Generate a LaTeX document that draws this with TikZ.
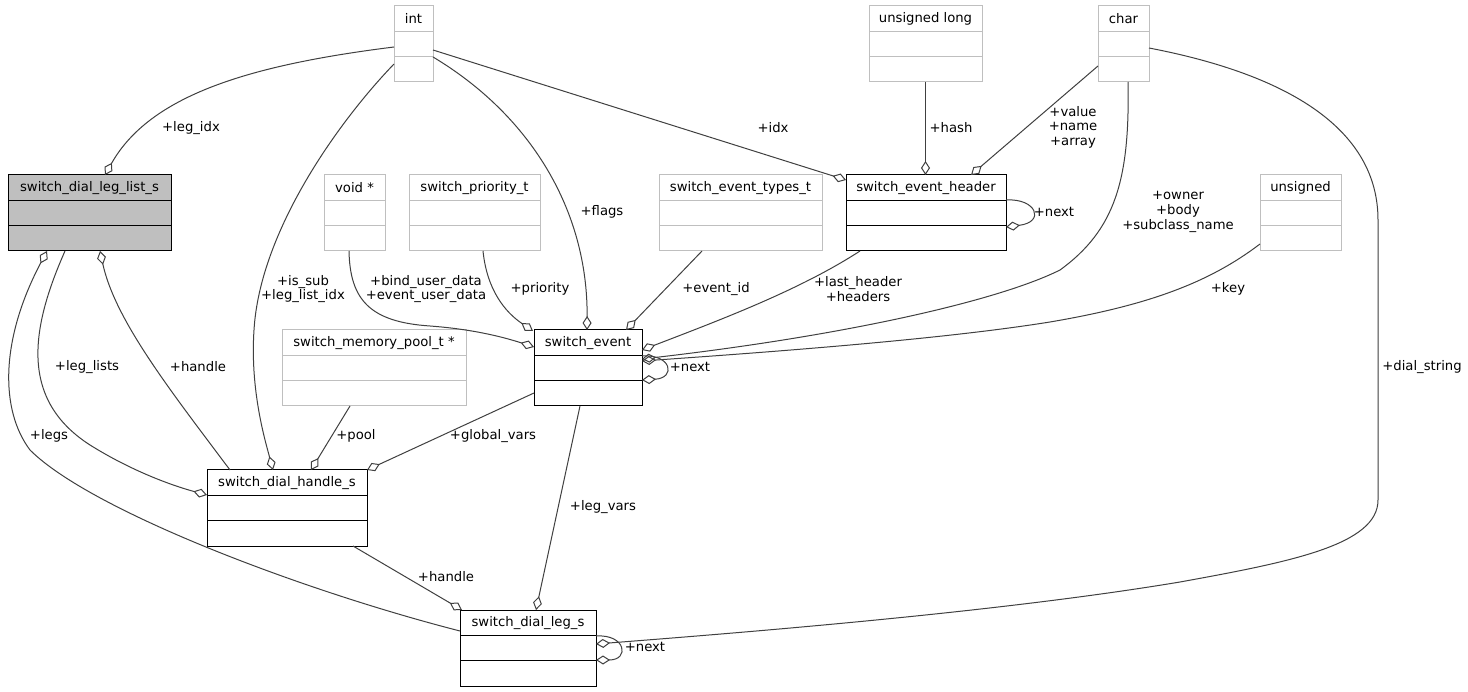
\documentclass[tikz,border=0pt]{standalone}
\usepackage{fontspec}
\newfontfamily\djv{DejaVu Sans}
\usetikzlibrary{arrows.meta}
\definecolor{edgecol}{HTML}{404040}
\definecolor{boxgray}{HTML}{BFBFBF}
\newcommand\lblfont{\djv\fontsize{13.2}{14.6}\selectfont}
\tikzset{
  clsbox/.style={draw=black, line width=1pt, minimum height=76pt, inner sep=0pt, outer sep=0pt, anchor=north west},
  rowline/.style={draw=black, line width=1pt},
  ttl/.style={font=\lblfont, inner sep=0pt, text=black},
  elabel/.style={font=\lblfont, inner sep=0pt, align=center, text=black},
  agg/.style={draw=edgecol, line width=1pt, -{Diamond[open, length=14pt, width=9pt]}},
}
\newcommand\umlclass[6]{%
  \node[clsbox, #6, minimum width=#4pt] (#1) at (#2,#3) {};
  \node[ttl] (#1-t) at ([yshift=-12.7pt]#1.north) {#5};
  \draw[rowline, #6] ([yshift=-25.3pt]#1.north west) -- ([yshift=-25.3pt]#1.north east);
  \draw[rowline, #6] ([yshift=-50.7pt]#1.north west) -- ([yshift=-50.7pt]#1.north east);
}
\begin{document}
\begin{tikzpicture}[x=1pt,y=-1pt]
\useasboundingbox (0,0) rectangle (1468,692);
\fill[white] (0,0) rectangle (1468,692);

\umlclass{leglist}{8}{175}{163}{switch\_dial\_leg\_list\_s}{fill=boxgray}
\umlclass{int}{394}{6}{39}{int}{draw=boxgray}
\umlclass{voidp}{324}{175}{61}{void *}{draw=boxgray}
\umlclass{prio}{409}{175}{131}{switch\_priority\_t}{draw=boxgray}
\umlclass{evtypes}{659}{175}{163}{switch\_event\_types\_t}{draw=boxgray}
\umlclass{evheader}{846}{175}{160}{switch\_event\_header}{}
\umlclass{ulong}{869}{6}{113}{unsigned long}{draw=boxgray}
\umlclass{char}{1098}{6}{51}{char}{draw=boxgray}
\umlclass{unsig}{1260}{175}{81}{unsigned}{draw=boxgray}
\umlclass{mempool}{282}{330}{184}{switch\_memory\_pool\_t *}{draw=boxgray}
\umlclass{event}{534}{330}{108}{switch\_event}{}
\umlclass{handle}{207}{470}{160}{switch\_dial\_handle\_s}{}
\umlclass{legs}{460}{610}{136}{switch\_dial\_leg\_s}{}

% int -> leg_list_s
\draw[agg] ([shift={(0,41)}]int.north west) .. controls (250,65) and (150,95) .. ([shift={(97,0)}]leglist.north west);
\node[elabel] (l1) at (191,128) {+leg\_idx};
% int -> event_header
\draw[agg] ([shift={(0,44)}]int.north east) -- ([shift={(0,5)}]evheader.north west);
\node[elabel] (l2) at (773,128) {+idx};
% int -> handle
\draw[agg] ([shift={(0,58)}]int.north west) .. controls (340,120) and (260,230) .. (254,330) .. controls (250,390) and (265,440) .. ([shift={(66,0)}]handle.north west);
\node[elabel] (l3) at (303,289) {+is\_sub\\+leg\_list\_idx};
% int -> event
\draw[agg] ([shift={(0,51)}]int.north east) .. controls (530,115) and (588,210) .. ([shift={(53,0)}]event.north west);
\node[elabel] (l4) at (602,212) {+flags};
% void* -> event
\draw[agg] ([shift={(25,0)}]voidp.south west) .. controls (350,300) and (370,322) .. (430,326) .. controls (470,329) and (500,336) .. ([shift={(0,17)}]event.north west);
\node[elabel] (l5) at (426,289) {+bind\_user\_data\\+event\_user\_data};
% priority -> event
\draw[agg] ([shift={(74,0)}]prio.south west) .. controls (487,290) and (505,312) .. ([shift={(-1,1)}]event.north west);
\node[elabel] (l6) at (540,289) {+priority};
% event types -> event
\draw[agg] ([shift={(43,0)}]evtypes.south west) -- ([shift={(92,0)}]event.north west);
\node[elabel] (l7) at (716,289) {+event\_id};
% header -> event
\draw[agg] ([shift={(14,0)}]evheader.south west) .. controls (800,290) and (720,320) .. ([shift={(0,20)}]event.north east);
\node[elabel] (l8) at (858,289) {+last\_header\\+headers};
% header self
\draw[agg] ([shift={(0,25)}]evheader.north east) .. controls (1036,198) and (1046,222) .. ([shift={(0,52)}]evheader.north east);
\node[elabel] (l9) at (1054,212) {+next};
% unsigned long -> header
\draw[agg] (ulong.south) -- (ulong.south |- evheader.north);
\node[elabel] (l10) at (951,128) {+hash};
% char -> header
\draw[agg] ([shift={(0,60)}]char.north west) -- ([shift={(125,0)}]evheader.north west);
\node[elabel] (l11) at (1073,127) {+value\\+name\\+array};
% char -> event
\draw[agg] ([shift={(30,0)}]char.south west) .. controls (1130,180) and (1115,230) .. (1060,270) .. controls (1000,300) and (850,335) .. ([shift={(0,29)}]event.north east);
\node[elabel] (l12) at (1178,212) {+owner\\+body\\+subclass\_name};
% unsigned -> event
\draw[agg] ([shift={(0,69)}]unsig.north west) .. controls (1210,282) and (1150,305) .. (1050,322) .. controls (950,338) and (800,350) .. ([shift={(0,31)}]event.north east);
\node[elabel] (l13) at (1228,289) {+key};
% event self
\draw[agg] ([shift={(0,26)}]event.north east) .. controls (672,354) and (676,378) .. ([shift={(0,50)}]event.north east);
\node[elabel] (l14) at (690,367) {+next};
% mempool -> handle
\draw[agg] ([shift={(68,0)}]mempool.south west) -- ([shift={(104,0)}]handle.north west);
\node[elabel] (l15) at (356,436) {+pool};
% event -> handle
\draw[agg] ([shift={(0,63)}]event.north west) -- (handle.north east);
\node[elabel] (l16) at (493,436) {+global\_vars};
% event -> leg
\draw[agg] ([shift={(46,0)}]event.south west) -- ([shift={(76,0)}]legs.north west);
\node[elabel] (l17) at (603,507) {+leg\_vars};
% handle -> leg
\draw[agg] ([shift={(146,0)}]handle.south west) -- ([shift={(2,0)}]legs.north west);
\node[elabel] (l18) at (446,577) {+handle};
% leg self
\draw[agg] ([shift={(0,26)}]legs.north east) .. controls (626,634) and (630,660) .. ([shift={(0,50)}]legs.north east);
\node[elabel] (l19) at (645,647) {+next};
% char -> leg
\draw[agg] ([shift={(0,42)}]char.north east) .. controls (1290,75) and (1378,130) .. (1378,220) -- (1378,500) .. controls (1378,545) and (1290,562) .. (1180,582) .. controls (1000,612) and (750,632) .. ([shift={(0,34)}]legs.north east);
\node[elabel] (l20) at (1422,367) {+dial\_string};
% leg_list -> handle
\draw[agg] ([shift={(57,0)}]leglist.south west) .. controls (30,330) and (20,400) .. (90,445) .. controls (130,470) and (170,485) .. ([shift={(0,25)}]handle.north west);
\node[elabel] (l21) at (87,367) {+leg\_lists};
% handle -> leg_list
\draw[agg] ([shift={(23,0)}]handle.north west) .. controls (170,390) and (115,320) .. ([shift={(92,0)}]leglist.south west);
\node[elabel] (l22) at (198,367) {+handle};
% leg -> leg_list
\draw[agg] ([shift={(0,21)}]legs.north west) .. controls (300,590) and (90,510) .. (30,450) .. controls (0,410) and (0,340) .. ([shift={(39,0)}]leglist.south west);
\node[elabel] (l23) at (49,436) {+legs};
\end{tikzpicture}
\end{document}
